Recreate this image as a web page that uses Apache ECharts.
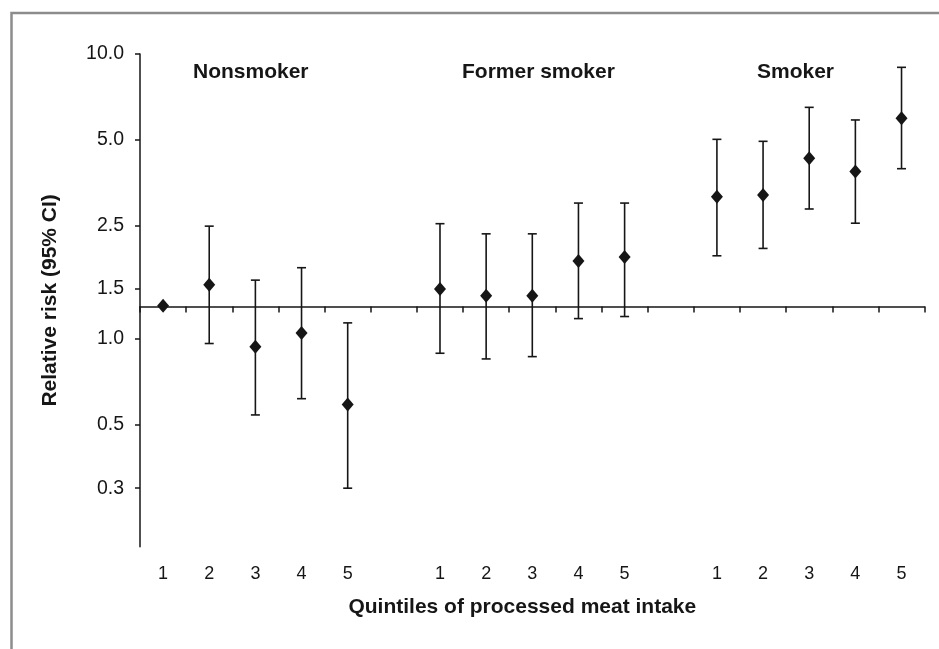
<!DOCTYPE html>
<html>
<head>
<meta charset="utf-8">
<script src="https://cdn.jsdelivr.net/npm/echarts@6/dist/echarts.min.js"></script>
<style>html,body{margin:0;padding:0;background:#fff}#c{width:939px;height:649px}</style>
</head>
<body>
<div id="c"></div>
<script>
// ---- data ----
var categories = ['1','2','3','4','5','', '1','2','3','4','5','', '1','2','3','4','5'];
var groupNames = ['Nonsmoker', 'Former smoker', 'Smoker'];
var yTicks = [0.3, 0.5, 1.0, 1.5, 2.5, 5.0, 10.0];
var refLine = 1.3;
// relative risk point estimates (null = gap slot)
var rr    = [1.31, 1.55, 0.94, 1.05, 0.59, null, 1.50, 1.42, 1.42, 1.88, 1.94, null, 3.16, 3.20, 4.31, 3.87, 5.95];
var lower = [null, 0.965, 0.542, 0.618, 0.300, null, 0.892, 0.852, 0.868, 1.18, 1.20, null, 1.96, 2.08, 2.86, 2.55, 3.96];
var upper = [null, 2.49, 1.61, 1.78, 1.14, null, 2.54, 2.34, 2.34, 3.00, 3.00, null, 5.02, 4.94, 6.50, 5.87, 8.98];

var FONT = '"Liberation Sans", Arial, Helvetica, sans-serif';
var INK = '#161616';

var chart = echarts.init(document.getElementById('c'), null, {renderer: 'canvas'});

var pointData = rr.map(function (v, i) { return v == null ? null : [i, v]; }).filter(function (d) { return d; });
var errData = [];
for (var i = 0; i < categories.length; i++) {
  if (lower[i] != null && upper[i] != null) errData.push([i, lower[i], upper[i]]);
}

var option = {
  animation: false,
  backgroundColor: '#fff',
  grid: {left: 140, top: 54, right: 14.4, bottom: 102.3, containLabel: false},
  xAxis: [
    {
      type: 'category', data: categories, position: 'bottom', boundaryGap: true,
      axisLine: {show: false}, axisTick: {show: false}, splitLine: {show: false},
      axisLabel: {color: INK, fontFamily: FONT, fontSize: 18, margin: 18, interval: 0},
      name: 'Quintiles of processed meat intake', nameLocation: 'middle', nameGap: 50,
      nameTextStyle: {color: INK, fontFamily: FONT, fontSize: 21, fontWeight: 'bold', padding: [0, 20, 0, 0]}
    },
    {
      type: 'category', data: categories, position: 'bottom', boundaryGap: true, offset: 0,
      axisLine: {show: true, lineStyle: {color: INK, width: 1.5}},
      axisTick: {show: true, length: 6, interval: 0, lineStyle: {color: INK, width: 1.5}},
      axisLabel: {show: false}, splitLine: {show: false}
    }
  ],
  yAxis: {
    type: 'log', logBase: 10, min: 0.187, max: 10,
    axisLine: {show: true, lineStyle: {color: INK, width: 1.5}},
    axisTick: {show: true, length: 5, customValues: yTicks, lineStyle: {color: INK, width: 1.5}},
    axisLabel: {customValues: yTicks, color: INK, fontFamily: FONT, fontSize: 19.5, margin: 16,
      formatter: function (v) { return Number(v).toFixed(1); }},
    splitLine: {show: false}, minorTick: {show: false},
    name: 'Relative risk (95% CI)', nameLocation: 'middle', nameRotate: 90, nameGap: 79,
    nameTextStyle: {color: INK, fontFamily: FONT, fontSize: 21, fontWeight: 'bold'}
  },
  series: [
    {
      type: 'custom', name: 'CI', xAxisIndex: 0, yAxisIndex: 0, data: errData,
      encode: {x: 0, y: [1, 2]},
      renderItem: function (params, api) {
        var x = api.value(0);
        var lo = api.coord([x, api.value(1)]);
        var hi = api.coord([x, api.value(2)]);
        var hw = 4.5;
        var st = {stroke: INK, lineWidth: 1.6};
        return {
          type: 'group',
          children: [
            {type: 'line', shape: {x1: lo[0], y1: lo[1], x2: hi[0], y2: hi[1]}, style: st},
            {type: 'line', shape: {x1: lo[0] - hw, y1: lo[1], x2: lo[0] + hw, y2: lo[1]}, style: st},
            {type: 'line', shape: {x1: hi[0] - hw, y1: hi[1], x2: hi[0] + hw, y2: hi[1]}, style: st}
          ]
        };
      },
      z: 2
    },
    {
      type: 'scatter', name: 'RR', xAxisIndex: 0, yAxisIndex: 0, data: pointData,
      symbol: 'diamond', symbolSize: [12, 14],
      itemStyle: {color: INK, opacity: 1}, z: 3
    }
  ],
  graphic: [
    {type: 'polyline', shape: {points: [[11.5, 649], [11.5, 13], [939, 13]]},
      style: {stroke: '#8c8c8c', lineWidth: 2.5, fill: null}},
    {type: 'text', left: 193, top: 62, style: {text: groupNames[0], font: 'bold 21px ' + FONT, fill: INK}},
    {type: 'text', left: 462, top: 62, style: {text: groupNames[1], font: 'bold 21px ' + FONT, fill: INK}},
    {type: 'text', left: 757, top: 62, style: {text: groupNames[2], font: 'bold 21px ' + FONT, fill: INK}}
  ]
};
chart.setOption(option);

// place the horizontal category line at the reference value through the y scale
var yRef = chart.convertToPixel({yAxisIndex: 0}, refLine);
var gridBottomY = 649 - 102.3;
chart.setOption({xAxis: [{}, {offset: yRef - gridBottomY}]});
</script>
</body>
</html>
